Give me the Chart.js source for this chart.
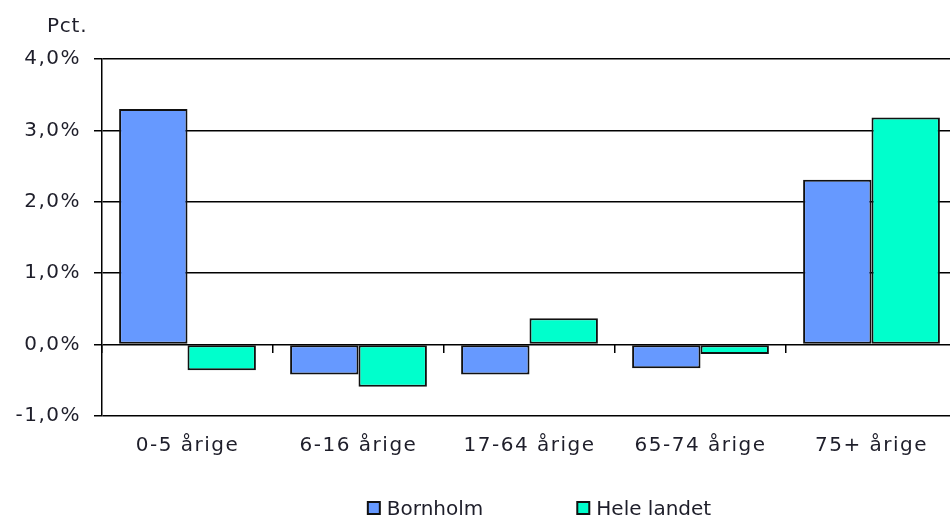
<!DOCTYPE html>
<html>
<head>
<meta charset="utf-8">
<script src="https://cdn.jsdelivr.net/npm/chart.js@4/dist/chart.umd.min.js"></script>
<style>
html, body { margin: 0; padding: 0; overflow: hidden; background: #fff; }
#wrap { width: 960px; height: 515px; }
</style>
</head>
<body>
<div id="wrap"><canvas id="c" width="960" height="515"></canvas></div>
<script>
const categories = ['0-5 årige', '6-16 årige', '17-64 årige', '65-74 årige', '75+ årige'];
const bornholm = [3.30, -0.42, -0.42, -0.33, 2.31];
const heleLandet = [-0.36, -0.59, 0.37, -0.13, 3.18];
const seriesNames = ['Bornholm', 'Hele landet'];
const yMin = -1, yMax = 4, yStep = 1;
const yUnitLabel = 'Pct.';

const FONT = '"DejaVu Sans", Verdana, sans-serif';
const TEXT = '#1e1e2a';

const spacingPlugin = {
  id: 'spacing',
  beforeUpdate(chart) { chart.ctx.letterSpacing = '1.5px'; },
  beforeLayout(chart) { chart.ctx.letterSpacing = '1.5px'; },
  beforeDraw(chart) { chart.ctx.letterSpacing = '1.5px'; }
};

const extrasPlugin = {
  id: 'extras',
  afterDraw(chart) {
    const ctx = chart.ctx;
    ctx.save();
    ctx.letterSpacing = '0.75px';
    ctx.font = '20px ' + FONT;
    ctx.fillStyle = TEXT;
    ctx.textAlign = 'left';
    ctx.textBaseline = 'alphabetic';
    ctx.fillText(yUnitLabel, 47, 32);
    ctx.letterSpacing = '0px';
    const box = 12, gap = 7, itemGap = 94;
    const items = chart.data.datasets.map(ds => ({
      text: ds.label, fill: ds.backgroundColor, w: box + gap + ctx.measureText(ds.label).width
    }));
    const total = items.reduce((s, it) => s + it.w, 0) + itemGap * (items.length - 1);
    const ca = chart.chartArea;
    let x = (ca.left + ca.right) / 2 + 10 - total / 2;
    const baseY = 515;
    items.forEach(it => {
      ctx.fillStyle = it.fill;
      ctx.fillRect(x, baseY - 13, box, box);
      ctx.strokeStyle = '#111';
      ctx.lineWidth = 2;
      ctx.strokeRect(x, baseY - 13, box, box);
      ctx.fillStyle = TEXT;
      ctx.fillText(it.text, x + box + gap, baseY);
      x += it.w + itemGap;
    });
    ctx.restore();
  }
};

new Chart(document.getElementById('c'), {
  type: 'bar',
  data: {
    labels: categories,
    datasets: [
      { label: seriesNames[0], data: bornholm, backgroundColor: '#6699ff', borderColor: '#111', borderWidth: 2, borderSkipped: false, inflateAmount: 0 },
      { label: seriesNames[1], data: heleLandet, backgroundColor: '#00ffcc', borderColor: '#111', borderWidth: 2, borderSkipped: false, inflateAmount: 0 }
    ]
  },
  options: {
    responsive: false,
    animation: false,
    devicePixelRatio: 1,
    categoryPercentage: 0.8,
    barPercentage: 1.0,
    layout: { padding: { left: 0, right: 3, top: 59, bottom: 0 } },
    plugins: {
      legend: { display: false },
      title: { display: false },
      tooltip: { enabled: false }
    },
    scales: {
      x: {
        type: 'category',
        position: 'bottom',
        grid: { display: false, drawTicks: false },
        border: { display: false },
        ticks: { color: TEXT, font: { family: FONT, size: 20 }, padding: 18, maxRotation: 0, autoSkip: false },
        afterFit(scale) { scale.height = 99; }
      },
      x2: {
        type: 'category',
        position: { y: 0 },
        offset: true,
        grid: { offset: true, drawOnChartArea: false, drawTicks: true, tickLength: 8, color: '#000', lineWidth: 1.5 },
        border: { display: false },
        ticks: { display: false }
      },
      y: {
        min: yMin,
        max: yMax,
        grid: { color: '#000', lineWidth: 1.5, tickLength: 8 },
        border: { display: true, color: '#000', width: 1.5 },
        ticks: {
          stepSize: yStep,
          color: TEXT,
          font: { family: FONT, size: 20 },
          padding: 13,
          callback: v => v.toFixed(1).replace('.', ',') + '%'
        },
        afterFit(scale) { scale.width = 102; }
      }
    }
  },
  plugins: [spacingPlugin, extrasPlugin]
});
</script>
</body>
</html>
